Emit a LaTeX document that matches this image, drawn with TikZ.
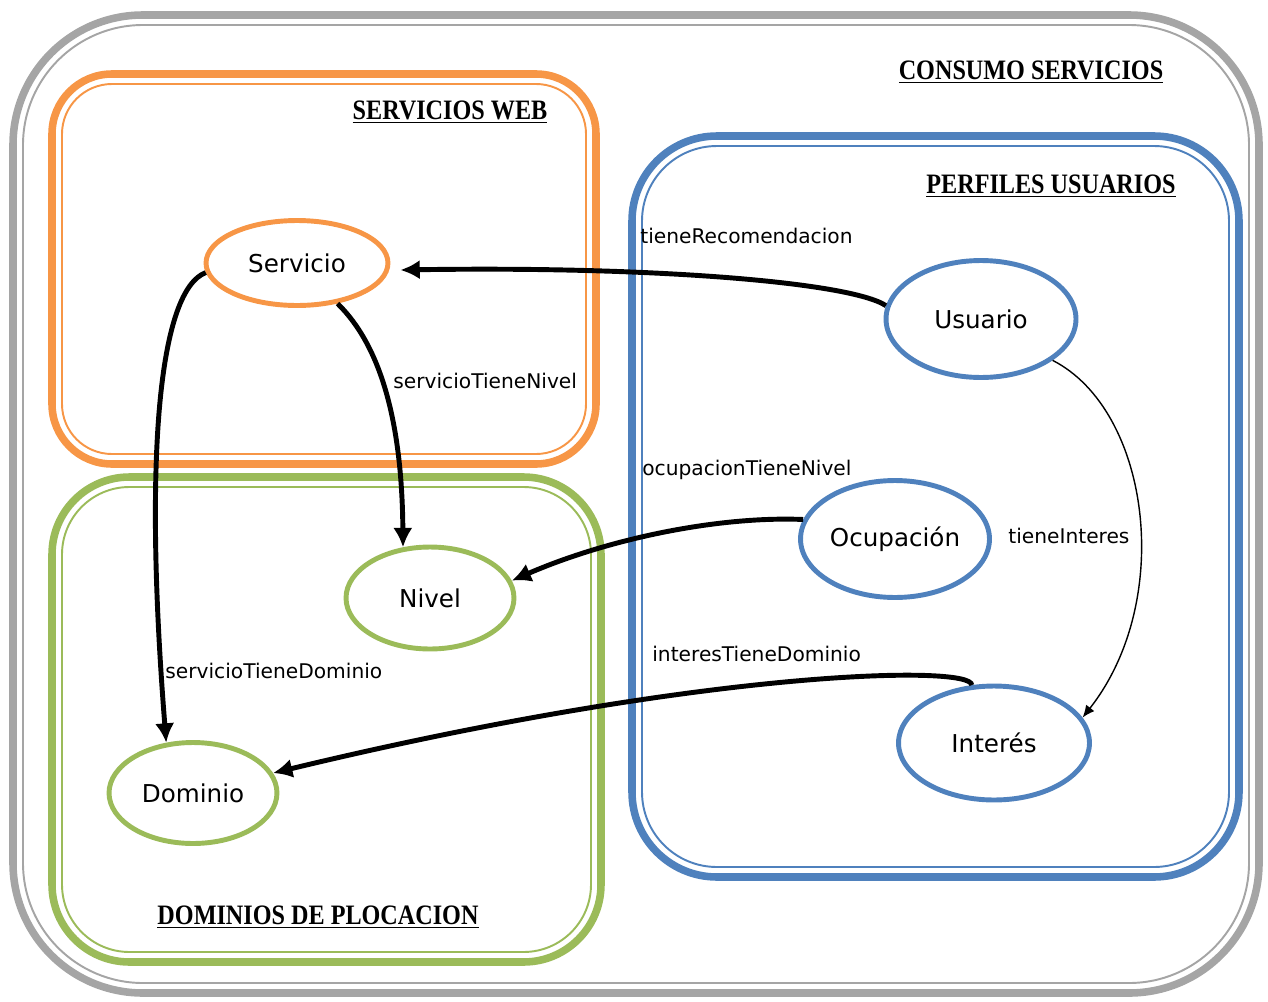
\documentclass[tikz,border=0pt]{standalone}
\usepackage{fontspec}
\setmainfont{DejaVu Sans}
\newfontfamily\titlefont[FakeStretch=0.86]{Liberation Serif}
\usetikzlibrary{shapes.geometric,arrows.meta}
\definecolor{cOrange}{HTML}{F79646}
\definecolor{cBlue}{HTML}{4F81BD}
\definecolor{cGreen}{HTML}{9BBB59}
\definecolor{cGray}{HTML}{A5A5A5}
\begin{document}
\begin{tikzpicture}[x=0.02cm,y=-0.02cm,
  concept/.style={ellipse, draw, line width=2.8pt, fill=white, inner sep=0pt,
    font=\fontsize{14}{16}\selectfont},
  rel/.style={line width=2.8pt, -{Latex[length=11pt,width=11pt]}},
  thinrel/.style={line width=0.8pt, -{Latex[length=7pt,width=6pt]}},
  lbl/.style={anchor=west, inner sep=0pt, font=\fontsize{11.5}{13}\selectfont},
  grouptitle/.style={inner sep=0pt, font=\titlefont\bfseries\fontsize{16}{18}\selectfont},
  outerline/.style={line width=4.3pt},
  innerline/.style={line width=1.1pt}]
\useasboundingbox (0,0) rectangle (1268,1001);

% group frames: thick outer line with a thin inner line
\draw[cGray, outerline, rounded corners=2.6cm] (13,15) rectangle (1259,993);
\draw[cGray, innerline, rounded corners=2.4cm] (23,25) rectangle (1249,983);

\draw[cOrange, outerline, rounded corners=1.2cm] (52,74) rectangle (596,464);
\draw[cOrange, innerline, rounded corners=1.0cm] (62,84) rectangle (586,454);

\draw[cGreen, outerline, rounded corners=1.55cm] (52,477) rectangle (601,962);
\draw[cGreen, innerline, rounded corners=1.35cm] (62,487) rectangle (591,952);

\draw[cBlue, outerline, rounded corners=1.7cm] (632,136) rectangle (1239,877);
\draw[cBlue, innerline, rounded corners=1.5cm] (642,146) rectangle (1229,867);

% group titles
\node[grouptitle] (tConsumo) at (1031,72) {\underline{CONSUMO SERVICIOS}};
\node[grouptitle] (tWeb) at (450,112) {\underline{SERVICIOS WEB}};
\node[grouptitle] (tPerfiles) at (1051,186) {\underline{PERFILES USUARIOS}};
\node[grouptitle] (tDominios) at (318,917) {\underline{DOMINIOS DE PLOCACION}};

% concepts
\node[concept, draw=cOrange, minimum width=3.64cm, minimum height=1.70cm] (S) at (297,263) {Servicio};
\node[concept, draw=cBlue,   minimum width=3.80cm, minimum height=2.34cm] (U) at (981,319) {Usuario};
\node[concept, draw=cBlue,   minimum width=3.78cm, minimum height=2.34cm] (O) at (895,539) {Ocupación};
\node[concept, draw=cGreen,  minimum width=3.36cm, minimum height=2.04cm] (N) at (430,598) {Nivel};
\node[concept, draw=cGreen,  minimum width=3.36cm, minimum height=2.02cm] (D) at (193,793) {Dominio};
\node[concept, draw=cBlue,   minimum width=3.82cm, minimum height=2.28cm] (I) at (994,743) {Interés};

% relations
\draw[rel] (U.172) .. controls (850,282) and (650,266) .. ([shift={(10,7)}]S.east);
\draw[rel] (S.-45) .. controls (380,345) and (402,420) .. (N.118);
\draw[rel] (S.186) .. controls (160,290) and (143,450) .. (D.118);
\draw[rel] (O.168) .. controls (720,516) and (610,538) .. (N.12);
\draw[rel] (I.111) .. controls (972,664) and (700,670) .. (D.14);
\draw[thinrel] (U.-30) .. controls (1150,410) and (1175,600) .. (I.16);

% relation labels
\node[lbl] (lRec) at (640,236) {tieneRecomendacion};
\node[lbl] (lSN) at (393,381) {servicioTieneNivel};
\node[lbl] (lSD) at (165,671) {servicioTieneDominio};
\node[lbl] (lON) at (642,470) {ocupacionTieneNivel};
\node[lbl] (lID) at (652,654) {interesTieneDominio};
\node[lbl] (lTI) at (1008,536) {tieneInteres};
\end{tikzpicture}
\end{document}
